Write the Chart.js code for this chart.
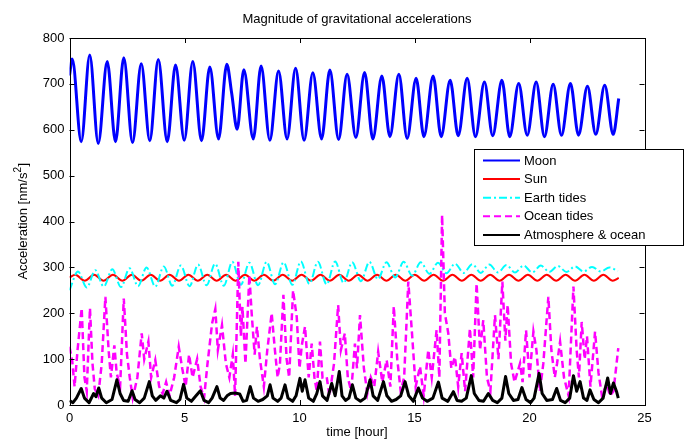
<!DOCTYPE html>
<html>
<head>
<meta charset="utf-8">
<script src="https://cdn.jsdelivr.net/npm/chart.js@4/dist/chart.umd.min.js"></script>
<style>
  html, body { margin: 0; padding: 0; background: #fff; }
  canvas { display: block; }
</style>
</head>
<body>
<canvas id="gravChart" width="685" height="439"></canvas>
<script>
const xTicks = [0, 5, 10, 15, 20, 25];
const yTicks = [0, 100, 200, 300, 400, 500, 600, 700, 800];

// Moon: extrema
const moonTime = [0, 0.12, 0.51, 0.88, 1.25, 1.64, 2.00, 2.36, 2.74, 3.12, 3.49, 3.86, 4.25, 4.61, 4.99, 5.36, 5.74, 6.10, 6.48, 6.84, 7.05, 7.29,
  7.58, 7.99, 8.33, 8.71, 9.09, 9.46, 9.83, 10.20, 10.58, 10.96, 11.32, 11.70, 12.07, 12.45, 12.83, 13.19, 13.58, 13.93, 14.32, 14.68,
  15.07, 15.41, 15.81, 16.16, 16.55, 16.90, 17.29, 17.65, 18.04, 18.40, 18.80, 19.14, 19.53, 19.90, 20.29, 20.65, 21.03, 21.39, 21.78,
  22.13, 22.52, 22.88, 23.27, 23.64, 23.88];
const moonValue = [718, 754, 574, 763, 570, 749, 574, 757, 572, 744, 576, 753, 574, 741, 577, 749, 576, 737, 580, 743, 680, 601,
  731, 580, 739, 577, 728, 580, 734, 577, 724, 580, 730, 579, 721, 583, 725, 580, 717, 585, 721, 581,
  712, 585, 717, 585, 708, 587, 712, 585, 704, 587, 708, 585, 701, 588, 704, 585, 699, 588, 701,
  588, 695, 590, 697, 590, 668];

// Sun
const sunTime = [0, 0.25, 0.66, 1.07, 1.48, 1.89, 2.30, 2.71, 3.12, 3.53, 3.94, 4.35, 4.76, 5.17, 5.58, 5.99, 6.40, 6.81, 7.22,
  7.63, 8.04, 8.45, 8.86, 9.27, 9.68, 10.09, 10.50, 10.91, 11.32, 11.73, 12.14, 12.55, 12.96, 13.37, 13.78, 14.19, 14.60,
  15.01, 15.42, 15.83, 16.24, 16.65, 17.06, 17.47, 17.88, 18.29, 18.70, 19.11, 19.52, 19.93, 20.34, 20.75, 21.16, 21.57, 21.98,
  22.39, 22.80, 23.21, 23.62, 23.88];
const sunValue = [278, 284, 271, 284, 271, 284, 271, 284, 271, 284, 271, 284, 271, 284, 271, 284, 271, 284, 271,
  284, 271, 284, 271, 284, 271, 284, 271, 284, 271, 284, 271, 284, 271, 284, 271, 284, 271,
  284, 271, 284, 271, 284, 271, 284, 271, 284, 271, 284, 271, 284, 271, 284, 271, 284, 271,
  284, 271, 284, 271, 277];

// Earth tides
const earthTime = [0, 0.37, 0.75, 1.12, 1.49, 1.86, 2.24, 2.61, 2.98, 3.35, 3.73, 4.10, 4.47, 4.84, 5.22, 5.59, 5.96, 6.33, 6.71,
  7.08, 7.45, 7.82, 8.20, 8.57, 8.94, 9.31, 9.69, 10.06, 10.43, 10.80, 11.18, 11.55, 11.92, 12.29, 12.67, 13.04, 13.41,
  13.78, 14.16, 14.53, 14.90, 15.27, 15.65, 16.02, 16.39, 16.76, 17.14, 17.51, 17.88, 18.25, 18.63, 19.00, 19.37, 19.74,
  20.12, 20.49, 20.86, 21.23, 21.61, 21.98, 22.35, 22.72, 23.10, 23.47, 23.84];
const earthValue = [250, 291, 256, 294, 258, 296, 257, 298, 259, 300, 258, 302, 260, 304, 259, 306, 261, 308, 260,
  312, 262, 310, 261, 312, 263, 311, 262, 313, 264, 312, 263, 313, 266, 311, 270, 312, 274,
  311, 278, 312, 282, 311, 286, 310, 287, 308, 288, 307, 288, 306, 289, 305, 289, 304,
  289, 304, 290, 303, 290, 302, 291, 301, 291, 300, 292];

// Ocean tides
const oceanTime = [0.00, 0.12, 0.22, 0.35, 0.53, 0.65, 0.75, 0.89, 1.00, 1.10, 1.25, 1.40, 1.56, 1.70, 1.80, 1.95, 2.05, 2.20, 2.36,
  2.50, 2.62, 2.75, 2.95, 3.14, 3.25, 3.43, 3.55, 3.73, 3.90, 4.05, 4.20, 4.35, 4.55, 4.75, 4.90, 5.05, 5.20, 5.35, 5.55,
  5.70, 5.85, 6.00, 6.20, 6.34, 6.45, 6.63, 6.80, 6.95, 7.10, 7.20, 7.34, 7.45, 7.52, 7.65, 7.82, 7.92, 8.05, 8.15, 8.28,
  8.45, 8.60, 8.79, 8.93, 9.05, 9.15, 9.30, 9.44, 9.55, 9.72, 9.88, 10.00, 10.10, 10.24, 10.40, 10.53, 10.65, 10.75, 10.89,
  11.00, 11.18, 11.30, 11.50, 11.68, 11.80, 11.97, 12.10, 12.25, 12.41, 12.50, 12.63, 12.80, 12.95, 13.10, 13.25, 13.42,
  13.60, 13.79, 13.95, 14.10, 14.25, 14.40, 14.55, 14.73, 14.90, 15.05, 15.24, 15.40, 15.60, 15.75, 15.96, 16.08, 16.20,
  16.32, 16.47, 16.60, 16.76, 16.90, 17.05, 17.20, 17.41, 17.55, 17.70, 17.85, 17.99, 18.15, 18.30, 18.50, 18.65, 18.82,
  18.95, 19.05, 19.20, 19.35, 19.59, 19.70, 19.85, 20.00, 20.17, 20.30, 20.45, 20.60, 20.82, 20.95, 21.10, 21.20, 21.33,
  21.50, 21.70, 21.91, 22.05, 22.15, 22.27, 22.40, 22.50, 22.65, 22.85, 23.00, 23.15, 23.36, 23.50, 23.65, 23.86];
const oceanValue = [127, 95, 40, 120, 211, 60, 30, 211, 90, 35, 20, 90, 236, 120, 60, 130, 70, 40, 232,
  110, 60, 15, 60, 156, 100, 138, 60, 98, 40, 25, 50, 20, 60, 127, 80, 40, 110, 60, 100,
  40, 15, 90, 178, 209, 120, 174, 90, 60, 110, 20, 312, 150, 214, 90, 283, 200, 110, 171, 100,
  40, 120, 200, 120, 60, 90, 240, 100, 60, 250, 192, 80, 130, 171, 60, 134, 60, 30, 138,
  60, 62, 20, 90, 218, 120, 156, 60, 30, 134, 80, 196, 80, 25, 60, 40, 116,
  50, 98, 40, 215, 100, 30, 60, 269, 150, 40, 84, 20, 120, 60, 163, 60, 414,
  200, 156, 80, 105, 40, 113, 30, 167, 60, 265, 120, 185, 60, 30, 196, 100, 269,
  140, 218, 90, 50, 91, 50, 163, 60, 160, 120, 30, 90, 236, 120, 60, 91, 138,
  60, 20, 258, 120, 60, 181, 100, 150, 40, 160, 70, 20, 47, 20, 30, 124];

// Atmosphere & ocean
const atmoTime = [0.00, 0.15, 0.30, 0.51, 0.65, 0.85, 1.05, 1.15, 1.27, 1.40, 1.60, 1.85, 2.06, 2.20, 2.35, 2.55, 2.72, 2.85, 3.05,
  3.25, 3.47, 3.60, 3.75, 3.95, 4.10, 4.24, 4.40, 4.65, 4.80, 4.96, 5.10, 5.30, 5.50, 5.69, 5.85, 6.05, 6.20, 6.41, 6.55,
  6.70, 6.85, 7.00, 7.20, 7.40, 7.55, 7.70, 7.86, 8.00, 8.20, 8.40, 8.60, 8.72, 8.85, 9.05, 9.20, 9.37, 9.50, 9.70, 9.85,
  10.02, 10.12, 10.24, 10.40, 10.60, 10.75, 10.89, 11.00, 11.20, 11.40, 11.55, 11.73, 11.85, 12.00, 12.15, 12.30, 12.45,
  12.65, 12.85, 13.07, 13.20, 13.40, 13.65, 13.80, 14.00, 14.20, 14.40, 14.59, 14.75, 14.95, 15.17, 15.35, 15.55, 15.80,
  16.04, 16.20, 16.45, 16.69, 16.85, 17.05, 17.25, 17.47, 17.60, 17.80, 18.00, 18.21, 18.40, 18.60, 18.80, 18.96, 19.10,
  19.30, 19.50, 19.67, 19.85, 20.05, 20.20, 20.42, 20.55, 20.75, 21.00, 21.18, 21.35, 21.55, 21.75, 21.91, 22.05, 22.20,
  22.35, 22.50, 22.63, 22.80, 23.00, 23.20, 23.40, 23.52, 23.65, 23.78, 23.86];
const atmoValue = [10, 5, 15, 36, 15, 5, 25, 18, 37, 15, 5, 12, 55, 25, 10, 8, 31, 12, 5,
  15, 51, 20, 10, 20, 15, 30, 10, 5, 12, 45, 15, 8, 20, 31, 10, 5, 15, 40, 15,
  10, 20, 25, 26, 24, 8, 10, 40, 15, 8, 12, 20, 44, 15, 8, 15, 44, 15, 8, 20,
  58, 30, 55, 15, 8, 25, 51, 20, 10, 47, 20, 73, 20, 10, 15, 44, 15,
  8, 15, 55, 20, 10, 51, 20, 8, 12, 20, 51, 20, 8, 37, 15, 8, 15,
  50, 15, 8, 29, 10, 8, 15, 64, 25, 10, 8, 25, 10, 5, 15, 62, 25,
  10, 12, 38, 12, 5, 15, 69, 25, 10, 12, 36, 10, 5, 15, 64, 30, 51,
  15, 10, 33, 12, 5, 15, 59, 25, 48, 30, 15];

const FONT = '"Liberation Sans", Arial, Helvetica, sans-serif';

function pts(ts, vs) {
  return ts.map((t, i) => ({ x: t, y: vs[i] }));
}

// MATLAB style box, inward ticks, texts and legend
const matlabFrame = {
  id: 'matlabFrame',
  afterDraw(chart) {
    const ctx = chart.ctx;
    const a = chart.chartArea;
    const sx = chart.scales.x, sy = chart.scales.y;
    ctx.save();
    ctx.strokeStyle = '#000';
    ctx.lineWidth = 1;
    ctx.strokeRect(Math.round(a.left) + 0.5, Math.round(a.top) + 0.5,
      Math.round(a.right - a.left), Math.round(a.bottom - a.top));
    const tl = 5;
    ctx.beginPath();
    xTicks.forEach(v => {
      const x = Math.round(sx.getPixelForValue(v)) + 0.5;
      ctx.moveTo(x, a.bottom); ctx.lineTo(x, a.bottom - tl);
      ctx.moveTo(x, a.top); ctx.lineTo(x, a.top + tl);
    });
    yTicks.forEach(v => {
      const y = Math.round(sy.getPixelForValue(v)) + 0.5;
      ctx.moveTo(a.left, y); ctx.lineTo(a.left + tl, y);
      ctx.moveTo(a.right, y); ctx.lineTo(a.right - tl, y);
    });
    ctx.stroke();

    // texts
    ctx.fillStyle = '#000';
    ctx.font = '13px ' + FONT;
    ctx.textAlign = 'center';
    ctx.textBaseline = 'middle';
    const cx = (a.left + a.right) / 2;
    ctx.fillText('Magnitude of gravitational accelerations', cx, 19);
    ctx.fillText('time [hour]', cx, 432);

    // y label with superscript
    ctx.save();
    ctx.translate(22, (a.top + a.bottom) / 2);
    ctx.rotate(-Math.PI / 2);
    const p1 = 'Acceleration [nm/s', p2 = '2', p3 = ']';
    ctx.font = '13px ' + FONT;
    const w1 = ctx.measureText(p1).width, w3 = ctx.measureText(p3).width;
    ctx.font = '10px ' + FONT;
    const w2 = ctx.measureText(p2).width;
    let x0 = -(w1 + w2 + w3) / 2;
    ctx.textAlign = 'left';
    ctx.font = '13px ' + FONT;
    ctx.fillText(p1, x0, 1);
    ctx.font = '10px ' + FONT;
    ctx.fillText(p2, x0 + w1, -4);
    ctx.font = '13px ' + FONT;
    ctx.fillText(p3, x0 + w1 + w2 + 0.5, 1);
    ctx.restore();

    // legend
    const lx = 474.5, ly = 149.5, lw = 209, lh = 96;
    ctx.fillStyle = '#fff';
    ctx.fillRect(lx, ly, lw, lh);
    ctx.strokeStyle = '#000';
    ctx.lineWidth = 1;
    ctx.strokeRect(lx, ly, lw, lh);
    ctx.textAlign = 'left';
    ctx.font = '13px ' + FONT;
    chart.data.datasets.forEach((ds, i) => {
      const y = 160.5 + i * 18.6;
      ctx.save();
      ctx.strokeStyle = ds.borderColor;
      ctx.lineWidth = 2;
      ctx.setLineDash(ds.borderDash || []);
      ctx.beginPath();
      ctx.moveTo(483, y); ctx.lineTo(520, y);
      ctx.stroke();
      ctx.restore();
      ctx.fillStyle = '#000';
      ctx.fillText(ds.label, 524, y + 0.5);
    });
    ctx.restore();
  }
};

const config = {
  type: 'line',
  data: {
    datasets: [
      { label: 'Moon', data: pts(moonTime, moonValue), borderColor: '#0000ff', borderWidth: 3,
        cubicInterpolationMode: 'monotone', order: 5 },
      { label: 'Sun', data: pts(sunTime, sunValue), borderColor: '#ff0000', borderWidth: 2,
        cubicInterpolationMode: 'monotone', order: 4 },
      { label: 'Earth tides', data: pts(earthTime, earthValue), borderColor: '#00ffff', borderWidth: 2,
        borderDash: [8, 3, 2, 3], cubicInterpolationMode: 'monotone', order: 3 },
      { label: 'Ocean tides', data: pts(oceanTime, oceanValue), borderColor: '#ff00ff', borderWidth: 2.5,
        borderDash: [7, 4], tension: 0, order: 2 },
      { label: 'Atmosphere & ocean', data: pts(atmoTime, atmoValue), borderColor: '#000000', borderWidth: 3,
        tension: 0, borderJoinStyle: 'round', order: 1 }
    ]
  },
  options: {
    responsive: false,
    animation: false,
    devicePixelRatio: 1,
    elements: { point: { radius: 0 } },
    layout: { padding: { left: 0, right: 40.5, top: 38, bottom: 0 } },
    plugins: { legend: { display: false }, tooltip: { enabled: false } },
    scales: {
      x: {
        type: 'linear', min: 0, max: 25,
        afterFit: s => { s.height = 34; },
        afterBuildTicks: s => { s.ticks = xTicks.map(v => ({ value: v })); },
        grid: { display: false, drawTicks: false },
        border: { display: false },
        ticks: { color: '#000', padding: 6, font: { family: FONT, size: 13 } }
      },
      y: {
        type: 'linear', min: 0, max: 800,
        afterFit: s => { s.width = 69.5; },
        afterBuildTicks: s => { s.ticks = yTicks.map(v => ({ value: v })); },
        grid: { display: false, drawTicks: false },
        border: { display: false },
        ticks: { color: '#000', padding: 5, font: { family: FONT, size: 13 } }
      }
    }
  },
  plugins: [matlabFrame]
};

new Chart(document.getElementById('gravChart').getContext('2d'), config);
</script>
</body>
</html>
